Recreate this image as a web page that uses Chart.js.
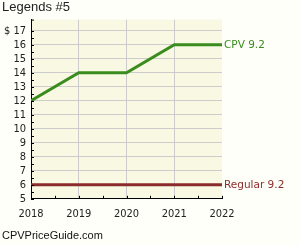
<!DOCTYPE html>
<html>
<head>
<meta charset="utf-8">
<script src="https://cdn.jsdelivr.net/npm/chart.js@4/dist/chart.umd.min.js"></script>
<style>
html,body{margin:0;padding:0;background:#fffffa;}
#wrap{width:300px;height:245px;position:relative;}
</style>
</head>
<body>
<div id="wrap"><canvas id="c" width="300" height="245"></canvas></div>
<script>
const years = [2018, 2019, 2020, 2021, 2022];
const cpvValues = [12, 14, 14, 16, 16];
const regularValues = [6, 6, 6, 6, 6];
const seriesNames = ['CPV 9.2', 'Regular 9.2'];
const yTickValues = [5, 6, 7, 8, 9, 10, 11, 12, 13, 14, 15, 16, 17];
const titleText = 'Legends #5';
const footerText = 'CPVPriceGuide.com';

const GREEN = '#3a8c1e';
const MAROON = '#8b2c2c';

const bgPlugin = {
  id: 'bg',
  beforeDraw(chart) {
    const ctx = chart.ctx, a = chart.chartArea;
    ctx.save();
    ctx.fillStyle = '#fffffa';
    ctx.fillRect(0, 0, chart.width, chart.height);
    ctx.fillStyle = '#f9f8e3';
    ctx.fillRect(a.left, a.top, a.right - a.left, a.bottom - a.top);
    ctx.restore();
  },
  afterDraw(chart) {
    const ctx = chart.ctx, a = chart.chartArea;
    const xs = chart.scales.x, ys = chart.scales.y;
    ctx.save();
    ctx.strokeStyle = '#000';
    ctx.lineWidth = 1;
    ctx.beginPath();
    for (let v = years[0]; v <= years[years.length - 1]; v += 0.5) {
      const px = Math.round(xs.getPixelForValue(v)) + 0.5;
      ctx.moveTo(px, a.bottom);
      ctx.lineTo(px, a.bottom - 3);
    }
    const yMin = yTickValues[0], yMax = yTickValues[yTickValues.length - 1];
    for (let v = yMin; v <= yMax; v += 0.5) {
      const py = Math.round(ys.getPixelForValue(v)) + 0.5;
      ctx.moveTo(a.left, py);
      ctx.lineTo(a.left + 3, py);
    }
    ctx.moveTo(a.left, a.top + 0.5);
    ctx.lineTo(a.left + 3, a.top + 0.5);
    ctx.stroke();
    // end labels
    ctx.font = '10.5px "DejaVu Sans"';
    ctx.textBaseline = 'middle';
    ctx.textAlign = 'left';
    chart.data.datasets.forEach((ds, i) => {
      const meta = chart.getDatasetMeta(i);
      const last = meta.data[meta.data.length - 1];
      ctx.fillStyle = ds.borderColor;
      ctx.fillText(ds.label, last.x + 2, last.y);
    });
    ctx.restore();
  }
};

new Chart(document.getElementById('c'), {
  type: 'line',
  data: {
    datasets: [
      { label: seriesNames[0], data: years.map((y, i) => ({x: y, y: cpvValues[i]})),
        borderColor: GREEN, borderWidth: 3, pointRadius: 0, tension: 0, fill: false },
      { label: seriesNames[1], data: years.map((y, i) => ({x: y, y: regularValues[i]})),
        borderColor: MAROON, borderWidth: 3, pointRadius: 0, tension: 0, fill: false }
    ]
  },
  options: {
    responsive: false,
    animation: false,
    events: [],
    layout: { padding: { left: 2, right: 78, top: 0, bottom: 0 } },
    plugins: {
      legend: { display: false },
      tooltip: { enabled: false },
      title: { display: true, text: titleText, align: 'start', color: '#222',
        font: { family: '"Liberation Sans", Arial, sans-serif', size: 13, weight: 'normal' },
        padding: { top: 0, bottom: 4 } },
      subtitle: { display: true, text: footerText, position: 'bottom', align: 'start', color: '#111',
        font: { family: '"Liberation Sans", Arial, sans-serif', size: 11, weight: 'normal' },
        padding: { top: 0, bottom: 2 } }
    },
    scales: {
      x: {
        type: 'linear', min: years[0], max: years[years.length - 1],
        afterFit(s) { s.height = 31; },
        ticks: { stepSize: 1, padding: 9, color: '#222', maxRotation: 0, autoSkip: false,
          font: { family: '"DejaVu Sans Condensed", "DejaVu Sans"', size: 11 },
          callback: v => String(v) },
        grid: { drawTicks: false,
          color: c => (c.tick && (c.tick.value === years[0] || c.tick.value === years[years.length - 1])) ? 'rgba(0,0,0,0)' : '#cccccc' },
        border: { display: true, color: '#000', width: 1 }
      },
      y: {
        type: 'linear', min: yTickValues[0], max: 17.8,
        afterFit(s) { s.width = 29; },
        afterBuildTicks(s) { s.ticks = yTickValues.map(v => ({ value: v })); },
        ticks: { stepSize: 1, padding: 5, color: '#222', autoSkip: false,
          font: { family: '"DejaVu Sans Condensed", "DejaVu Sans"', size: 11 },
          callback: v => v === yTickValues[yTickValues.length - 1] ? '$ ' + v : String(v) },
        grid: { drawTicks: false,
          color: c => (c.tick && c.tick.value === yTickValues[0]) ? 'rgba(0,0,0,0)' : '#cccccc' },
        border: { display: true, color: '#000', width: 1 }
      }
    }
  },
  plugins: [bgPlugin]
});
</script>
</body>
</html>
